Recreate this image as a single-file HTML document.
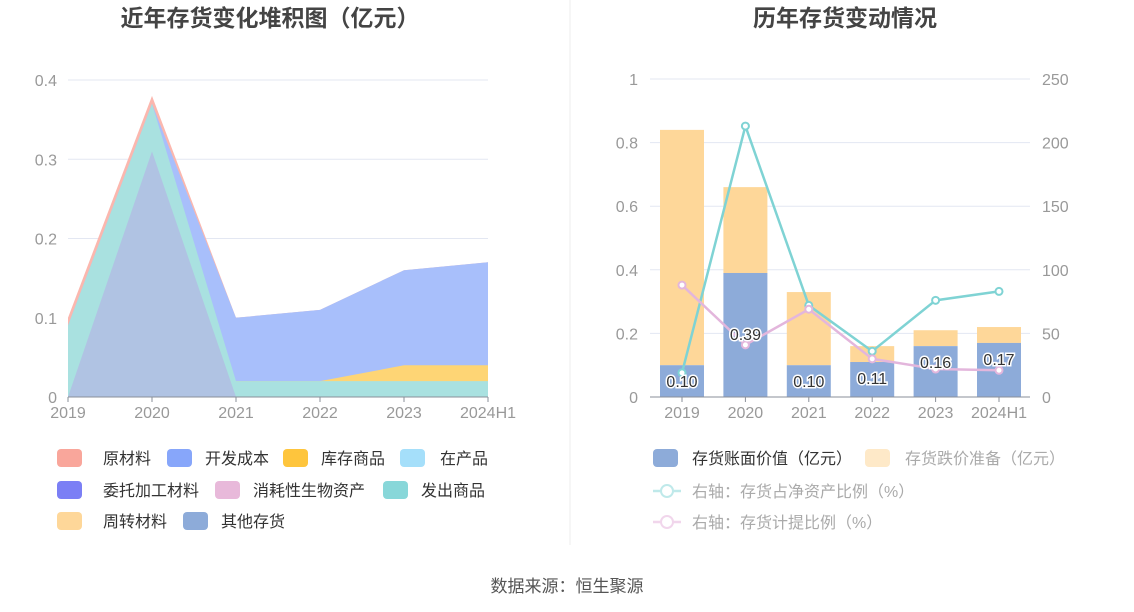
<!DOCTYPE html>
<html><head><meta charset="utf-8"><style>
body{margin:0;background:#fff;}
svg{display:block;font-family:"Liberation Sans","Noto Sans CJK SC",sans-serif;}
</style></head><body>
<svg id="s" width="1134" height="612" viewBox="0 0 1134 612">
<text x="270" y="26" text-anchor="middle" font-size="23" font-weight="bold" fill="#444">近年存货变化堆积图（亿元）</text>
<text x="845" y="26" text-anchor="middle" font-size="23" font-weight="bold" fill="#444">历年存货变动情况</text>
<line x1="570" y1="0" x2="570" y2="545" stroke="#eee"/>
<text x="567" y="592" text-anchor="middle" font-size="17" fill="#555">数据来源：恒生聚源</text>
<g id="left"></g>
<g id="right"></g>
<g id="legend"></g>
</svg>
<script>
const years=["2019","2020","2021","2022","2023","2024H1"];
const leftTicks=[0,0.1,0.2,0.3,0.4];
const rawMat=[0.10,0.38,0.10,0.11,0.16,0.17];
const devCost=[0.09,0.37,0.10,0.11,0.16,0.17];
const goodsStock=[0,0,0.02,0.02,0.04,0.04];
const shipped=[0.09,0.37,0.02,0.02,0.02,0.02];
const otherInv=[0,0.31,0,0,0,0];
const bookValue=[0.10,0.39,0.10,0.11,0.16,0.17];
const totalValue=[0.84,0.66,0.33,0.16,0.21,0.22];
const netAssetRatio=[19,213,72,36,76,83];
const provisionRatio=[88,41,69,30,22,21];
const rightTicksL=[0,0.2,0.4,0.6,0.8,1];
const rightTicksR=[0,50,100,150,200,250];
const NS="http://www.w3.org/2000/svg";
function el(p,t,a){const e=document.createElementNS(NS,t);for(const k in a)e.setAttribute(k,a[k]);p.appendChild(e);return e;}
const L=document.getElementById('left');
const lx=i=>68+i*(420/5), ly=v=>397-v*(317/0.4);
leftTicks.forEach(t=>{
 if(t>0){const g=el(L,'line',{x1:68,x2:488,y1:ly(t),y2:ly(t),stroke:'#e3e7f2'});
 
 }
 const tx=el(L,'text',{x:57,y:ly(t)+6,'text-anchor':'end','font-size':16,fill:'#999'});tx.textContent=t;
 
 
});
function area(vals,fill,op,stroke,name){
 let d='M'+lx(0)+','+ly(0);
 vals.forEach((v,i)=>d+=' L'+lx(i)+','+ly(v));
 d+=' L'+lx(vals.length-1)+','+ly(0)+' Z';
 const p=el(L,'path',{d:d,fill:fill,'fill-opacity':op,stroke:stroke||'none','stroke-width':2});
 
 
}
area(rawMat,'#fbb7ae',1,null,'area-raw-material');
area(devCost,'#a8bffb',1,null,'area-development-cost');
area(goodsStock,'#fed575',1,null,'area-goods-stock');
area(shipped,'#a9e1e0',1,null,'area-shipped-goods');
area(otherInv,'#b0c3e3',1,null,'area-other-inventory');
el(L,'line',{x1:68,x2:488,y1:397,y2:397,stroke:'#8a8f99'});
years.forEach((y,i)=>{
 el(L,'line',{x1:lx(i),x2:lx(i),y1:397,y2:402,stroke:'#8a8f99'});
 const t=el(L,'text',{x:lx(i),y:418,'text-anchor':'middle','font-size':16,fill:'#999'});t.textContent=y;
 
 
});
const R=document.getElementById('right');
const rx=i=>682+i*63.4, ryL=v=>397-v*318, ryR=v=>397-v*318/250;
rightTicksL.forEach((t,i)=>{
 if(t>0){const g=el(R,'line',{x1:650,x2:1030,y1:ryL(t),y2:ryL(t),stroke:'#e3e7f2'});
 
 }
 const a=el(R,'text',{x:638,y:ryL(t)+6,'text-anchor':'end','font-size':16,fill:'#999'});a.textContent=t;
 
 
 const b=el(R,'text',{x:1042,y:ryR(rightTicksR[i])+6,'font-size':16,fill:'#999'});b.textContent=rightTicksR[i];
 
 
});
years.forEach((y,i)=>{
 const top=el(R,'rect',{x:rx(i)-22,y:ryL(totalValue[i]),width:44,height:ryL(bookValue[i])-ryL(totalValue[i]),fill:'#fed799'});
 
 
 const b=el(R,'rect',{x:rx(i)-22,y:ryL(bookValue[i]),width:44,height:397-ryL(bookValue[i]),fill:'#8dabd9'});
 
 
});
el(R,'line',{x1:650,x2:1030,y1:397,y2:397,stroke:'#8a8f99'});
years.forEach((y,i)=>{
 el(R,'line',{x1:rx(i),x2:rx(i),y1:397,y2:402,stroke:'#8a8f99'});
 const t=el(R,'text',{x:rx(i),y:418,'text-anchor':'middle','font-size':16,fill:'#999'});t.textContent=y;
 
 
});
function line(vals,col,name){
 const p=el(R,'polyline',{points:vals.map((v,i)=>rx(i)+','+ryR(v)).join(' '),fill:'none',stroke:col,'stroke-width':2.5});
 
 
 vals.forEach((v,i)=>{const c=el(R,'circle',{cx:rx(i),cy:ryR(v),r:3.5,fill:'#fff',stroke:col,'stroke-width':2});
 
 });
}
line(netAssetRatio,'#7fd3d4','line-net-asset-ratio');
line(provisionRatio,'#e3b6dc','line-provision-ratio');
years.forEach((y,i)=>{
 const v=bookValue[i];
 const yy=(v>0.3)?ryL(v)+67:Math.min(ryL(v)+22,389);
 const t=el(R,'text',{x:rx(i),y:yy,'text-anchor':'middle','font-size':16,fill:'#333',stroke:'#fff','stroke-width':3,'paint-order':'stroke'});
 t.textContent=v.toFixed(2);
 
 
});
const G=document.getElementById('legend');
function sw2(x,tx,y,col,label,tcol,name){
 const r=el(G,'rect',{x:x,y:y-9,width:25,height:18,rx:4,fill:col});
 
 
 const t=el(G,'text',{x:tx,y:y+6,'font-size':16,fill:tcol||'#333'});t.textContent=label;
 
 
}
sw2(57,103,458,'#f9a69b','原材料',null,'legend-raw-material');
sw2(167,205,458,'#87a6fa','开发成本',null,'legend-development-cost');
sw2(283,321,458,'#fec53d','库存商品',null,'legend-goods-stock');
sw2(400,440,458,'#a5dffa','在产品',null,'legend-wip');
sw2(57,103,490,'#7b7ff5','委托加工材料',null,'legend-consigned');
sw2(215,253,490,'#e8b9da','消耗性生物资产',null,'legend-bio-assets');
sw2(383,421,490,'#88d7d9','发出商品',null,'legend-shipped');
sw2(57,103,521,'#fed799','周转材料',null,'legend-turnover');
sw2(183,221,521,'#8dabd9','其他存货',null,'legend-other');
sw2(653,692,458,'#8dabd9','存货账面价值（亿元）',null,'legend-book-value');
sw2(865,905,458,'#fee9c8','存货跌价准备（亿元）','#aaa','legend-provision');
function lg(y,col,label,name){
 const l=el(G,'line',{x1:653,x2:681,y1:y,y2:y,stroke:col,'stroke-width':2.5});
 
 
 el(G,'circle',{cx:667,cy:y,r:6,fill:'#fff',stroke:col,'stroke-width':2});
 const t=el(G,'text',{x:692,y:y+6,'font-size':16,fill:'#aaa'});t.textContent=label;
 
 
}
lg(491,'#bfe9ea','右轴：存货占净资产比例（%）','legend-net-asset-ratio');
lg(522,'#f1d6ec','右轴：存货计提比例（%）','legend-provision-ratio');
</script>
</body></html>
